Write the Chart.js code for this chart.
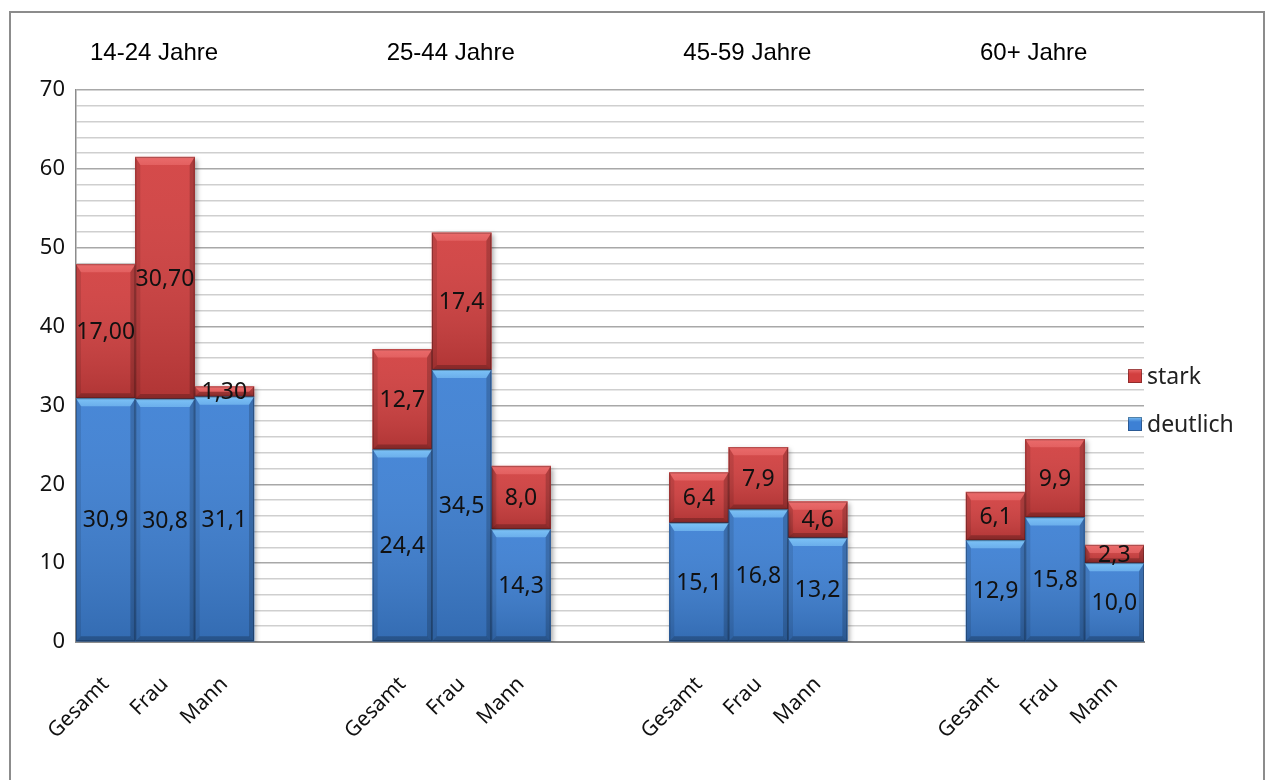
<!DOCTYPE html>
<html>
<head>
<meta charset="utf-8">
<script src="https://cdn.jsdelivr.net/npm/chart.js@4"></script>
<style>
  html, body { margin: 0; padding: 0; background: #ffffff; }
  #wrap { width: 1270px; height: 780px; position: relative; }
</style>
</head>
<body>
<div id="wrap"><canvas id="chart" width="1270" height="780"></canvas></div>
<script>
// Categories: three bars per age group, two empty slots between groups
const categories = [
  'Gesamt', 'Frau', 'Mann', '', '',
  'Gesamt', 'Frau', 'Mann', '', '',
  'Gesamt', 'Frau', 'Mann', '', '',
  'Gesamt', 'Frau', 'Mann'
];
const deutlich = [
  30.9, 30.8, 31.1, null, null,
  24.4, 34.5, 14.3, null, null,
  15.1, 16.8, 13.2, null, null,
  12.9, 15.8, 10.0
];
const stark = [
  17.0, 30.7, 1.3, null, null,
  12.7, 17.4, 8.0, null, null,
  6.4, 7.9, 4.6, null, null,
  6.1, 9.9, 2.3
];
// decimals shown in the value labels of each series
const deutlichDecimals = [1, 1, 1, 0, 0, 1, 1, 1, 0, 0, 1, 1, 1, 0, 0, 1, 1, 1];
const starkDecimals    = [2, 2, 2, 0, 0, 1, 1, 1, 0, 0, 1, 1, 1, 0, 0, 1, 1, 1];
const ageGroups = ['14-24 Jahre', '25-44 Jahre', '45-59 Jahre', '60+ Jahre'];
const ageGroupStart = [0, 5, 10, 15];
const yTickLabels = [0, 10, 20, 30, 40, 50, 60, 70];

const BLUE = '#3d80d4';
const RED = '#d23f3f';
const BLUE_TOP = '#7cc2f6';
const RED_TOP = '#ea6b6b';

const fmt = (v, d) => v.toFixed(d).replace('.', ',');

// soft drop shadow behind the bars
const barShadow = {
  id: 'barShadow',
  beforeDatasetsDraw(chart) {
    const ctx = chart.ctx;
    ctx.save();
    ctx.shadowColor = 'rgba(0,0,0,0.35)';
    ctx.shadowBlur = 5;
    ctx.shadowOffsetX = 2;
    ctx.shadowOffsetY = 2;
  },
  afterDatasetsDraw(chart) {
    chart.ctx.restore();
  }
};

// bevelled faces, value labels, legend, group titles and frame
const decorations = {
  id: 'decorations',
  afterDatasetsDraw(chart) {
    const ctx = chart.ctx;
    chart.data.datasets.forEach((ds, di) => {
      const meta = chart.getDatasetMeta(di);
      meta.data.forEach((el, i) => {
        if (ds.data[i] == null) return;
        const p = el.getProps(['x', 'y', 'base', 'width'], true);
        const l = p.x - p.width / 2, r = p.x + p.width / 2;
        const t = Math.min(p.y, p.base), b = Math.max(p.y, p.base);
        const h = b - t;
        const bv = Math.min(8, h / 2);
        const sv = Math.min(5, h / 2);
        ctx.save();
        // face shading
        const g = ctx.createLinearGradient(0, t, 0, b);
        g.addColorStop(0, 'rgba(255,255,255,0.06)');
        g.addColorStop(1, 'rgba(0,0,0,0.16)');
        ctx.fillStyle = g;
        ctx.fillRect(l, t, r - l, h);
        // top bevel
        ctx.beginPath();
        ctx.moveTo(l, t); ctx.lineTo(r, t); ctx.lineTo(r - sv, t + bv); ctx.lineTo(l + sv, t + bv); ctx.closePath();
        const gt = ctx.createLinearGradient(0, t, 0, t + bv);
        gt.addColorStop(0, ds.topColor);
        gt.addColorStop(1, ds.topColor + 'aa');
        ctx.fillStyle = gt;
        ctx.fill();
        // left edge
        ctx.beginPath();
        ctx.moveTo(l, t); ctx.lineTo(l + sv, t + bv); ctx.lineTo(l + sv, b - sv); ctx.lineTo(l, b); ctx.closePath();
        ctx.fillStyle = 'rgba(0,0,0,0.10)';
        ctx.fill();
        // right edge
        ctx.beginPath();
        ctx.moveTo(r, t); ctx.lineTo(r - sv, t + bv); ctx.lineTo(r - sv, b - sv); ctx.lineTo(r, b); ctx.closePath();
        ctx.fillStyle = 'rgba(0,0,0,0.18)';
        ctx.fill();
        // bottom edge
        ctx.beginPath();
        ctx.moveTo(l, b); ctx.lineTo(r, b); ctx.lineTo(r - sv, b - sv); ctx.lineTo(l + sv, b - sv); ctx.closePath();
        ctx.fillStyle = 'rgba(0,0,0,0.22)';
        ctx.fill();
        // outline
        ctx.strokeStyle = 'rgba(0,0,0,0.25)';
        ctx.lineWidth = 1;
        ctx.strokeRect(l + 0.5, t + 0.5, r - l - 1, h - 1);
        ctx.restore();
      });
    });
    // value labels
    ctx.save();
    ctx.font = '23px "Noto Sans", sans-serif';
    ctx.fillStyle = '#111111';
    ctx.textAlign = 'center';
    ctx.textBaseline = 'middle';
    chart.data.datasets.forEach((ds, di) => {
      const meta = chart.getDatasetMeta(di);
      meta.data.forEach((el, i) => {
        const v = ds.data[i];
        if (v == null) return;
        const p = el.getProps(['x', 'y', 'base'], true);
        ctx.fillText(fmt(v, ds.decimals[i]), p.x, (p.y + p.base) / 2 + 1);
      });
    });
    ctx.restore();
  },
  afterDraw(chart) {
    const ctx = chart.ctx;
    const xs = chart.scales.x;
    const area = chart.chartArea;
    ctx.save();
    // age group titles
    ctx.font = '24px "Liberation Sans", Arial, sans-serif';
    ctx.fillStyle = '#000000';
    ctx.textAlign = 'left';
    ctx.textBaseline = 'middle';
    const slot = xs.getPixelForValue(1) - xs.getPixelForValue(0);
    ageGroups.forEach((name, gi) => {
      const left = xs.getPixelForValue(ageGroupStart[gi]) - slot / 2 + 14;
      ctx.fillText(name, left, area.top - 37);
    });
    // legend (stark above deutlich)
    ctx.font = '23px "Noto Sans", sans-serif';
    const items = chart.data.datasets.slice().reverse();
    items.forEach((ds, k) => {
      const cy = 376 + k * 48;
      const bx = area.right - 16;
      const g = ctx.createLinearGradient(0, cy - 7, 0, cy + 7);
      g.addColorStop(0, ds.topColor);
      g.addColorStop(0.35, ds.backgroundColor);
      g.addColorStop(1, ds.backgroundColor);
      ctx.fillStyle = g;
      ctx.fillRect(bx, cy - 7, 14, 14);
      ctx.strokeStyle = 'rgba(0,0,0,0.3)';
      ctx.lineWidth = 1;
      ctx.strokeRect(bx + 0.5, cy - 6.5, 13, 13);
      ctx.fillStyle = '#222222';
      ctx.fillText(ds.label, bx + 19, cy + 1);
    });
    // outer frame
    ctx.strokeStyle = '#8c8c8c';
    ctx.lineWidth = 2;
    ctx.strokeRect(10, 12, 1254, 800);
    ctx.restore();
  }
};

new Chart(document.getElementById('chart'), {
  type: 'bar',
  data: {
    labels: categories,
    datasets: [
      { label: 'deutlich', data: deutlich, decimals: deutlichDecimals, backgroundColor: BLUE, topColor: BLUE_TOP, borderWidth: 0 },
      { label: 'stark', data: stark, decimals: starkDecimals, backgroundColor: RED, topColor: RED_TOP, borderWidth: 0 }
    ]
  },
  options: {
    responsive: false,
    animation: false,
    devicePixelRatio: 1,
    categoryPercentage: 1.0,
    barPercentage: 1.0,
    layout: { padding: { left: 0, right: 126, top: 90, bottom: 0 } },
    plugins: { legend: { display: false }, tooltip: { enabled: false } },
    scales: {
      x: {
        stacked: true,
        grid: { display: false, drawTicks: false },
        border: { display: true, color: '#8c8c8c', width: 2 },
        ticks: {
          autoSkip: false, maxRotation: 45, minRotation: 45, padding: 30,
          color: '#111111', font: { family: '"Noto Sans", sans-serif', size: 21 }
        },
        afterFit(s) { s.height = 138; }
      },
      y: {
        stacked: true,
        min: 0, max: 70,
        grid: {
          drawTicks: false,
          color: (c) => (c.tick && c.tick.value % 10 === 0) ? '#a8a8a8' : '#cfcfcf',
          lineWidth: 1.5
        },
        border: { display: true, color: '#8c8c8c', width: 1.5 },
        ticks: {
          stepSize: 2, padding: 11, autoSkip: false,
          color: '#111111', font: { family: '"Noto Sans", sans-serif', size: 22 },
          callback: (v) => yTickLabels.includes(v) ? String(v) : ''
        },
        afterFit(s) { s.width = 76; }
      }
    }
  },
  plugins: [barShadow, decorations]
});
</script>
</body>
</html>
